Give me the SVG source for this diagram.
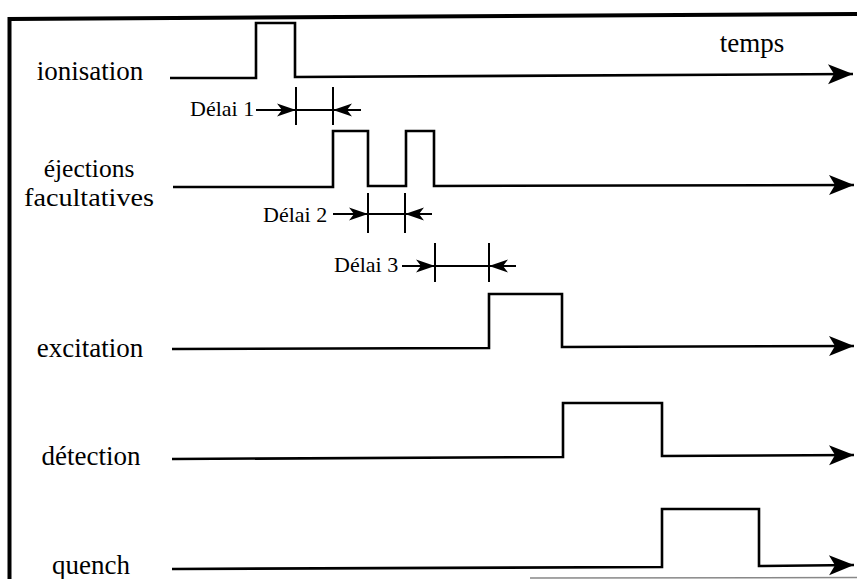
<svg xmlns="http://www.w3.org/2000/svg" width="857" height="579" viewBox="0 0 857 579">
<style>
.lbl{font-family:"Liberation Serif","Times New Roman",serif;font-size:27px;fill:#000;text-anchor:middle}
.lbl2{font-family:"Liberation Serif","Times New Roman",serif;font-size:25.5px;fill:#000;text-anchor:middle}
.dl{font-family:"Liberation Serif","Times New Roman",serif;font-size:22px;fill:#000}
.sig{fill:none;stroke:#000;stroke-width:2.6;stroke-linejoin:miter;marker-end:url(#big)}
.tick{stroke:#000;stroke-width:2}
.dar{fill:none;stroke:#000;stroke-width:2}
.arr{marker-end:url(#small)}
</style>
<defs>
<marker id="big" markerUnits="userSpaceOnUse" markerWidth="26" markerHeight="22" refX="25" refY="10" orient="auto" overflow="visible">
<path d="M0,0 L25,10 L0,20 L6,10 Z" fill="#000"/>
</marker>
<marker id="small" markerUnits="userSpaceOnUse" markerWidth="20" markerHeight="14" refX="19" refY="6.5" orient="auto" overflow="visible">
<path d="M0,0 L19,6.5 L0,13 L5,6.5 Z" fill="#000"/>
</marker>
</defs>
<rect width="857" height="579" fill="#fff"/>
<g id="frame">
<polyline points="9.5,579 9.5,19 857,14" fill="none" stroke="#000" stroke-width="4"/>
<line x1="530" y1="578" x2="857" y2="577.5" stroke="#888" stroke-width="1.5"/>
</g>
<text class="lbl" x="752" y="52">temps</text>
<g id="ionisation">
<text class="lbl" x="90" y="80">ionisation</text>
<path class="sig" d="M170,78 L256,78 L256,23 L295,23 L295,77 L853,74"/>
</g>
<g id="ejections">
<text class="lbl2" x="89" y="177">éjections</text>
<text class="lbl2" x="89" y="206" textLength="130" lengthAdjust="spacingAndGlyphs">facultatives</text>
<path class="sig" d="M173,187 L333,187 L333,131 L368,131 L368,186 L406,186 L406,131 L434,131 L434,186 L854,185"/>
</g>
<g id="excitation">
<text class="lbl" x="90" y="357">excitation</text>
<path class="sig" d="M172,349 L489,348 L489,294 L562,294 L562,347 L854,346"/>
</g>
<g id="detection">
<text class="lbl" x="91" y="465">détection</text>
<path class="sig" d="M172,459 L563,457 L563,403 L662,403 L662,456 L854,455"/>
</g>
<g id="quench">
<text class="lbl" x="91" y="574">quench</text>
<path class="sig" d="M172,569 L662,567 L662,509 L759,509 L759,566 L854,565"/>
</g>
<g id="delai1">
<text class="dl" x="190" y="116">Délai 1</text>
</g>
<g id="delai2">
<text class="dl" x="263" y="222">Délai 2</text>
</g>
<g id="delai3">
<text class="dl" x="334" y="272">Délai 3</text>
</g>
<g id="connectors">
<line class="tick" x1="296" y1="87" x2="296" y2="125"/>
<line class="tick" x1="333" y1="87" x2="333" y2="125"/>
<line class="dar" x1="296" y1="110" x2="333" y2="110"/>
<line class="dar arr" x1="256" y1="110" x2="296" y2="110"/>
<line class="dar arr" x1="361" y1="110" x2="333" y2="110"/>
<line class="tick" x1="368" y1="193" x2="368" y2="233"/>
<line class="tick" x1="405" y1="193" x2="405" y2="233"/>
<line class="dar" x1="368" y1="214" x2="405" y2="214"/>
<line class="dar arr" x1="333" y1="214" x2="368" y2="214"/>
<line class="dar arr" x1="432" y1="214" x2="405" y2="214"/>
<line class="tick" x1="435" y1="243" x2="435" y2="282"/>
<line class="tick" x1="489" y1="243" x2="489" y2="282"/>
<line class="dar" x1="435" y1="266" x2="489" y2="266"/>
<line class="dar arr" x1="402" y1="266" x2="435" y2="266"/>
<line class="dar arr" x1="516" y1="266" x2="489" y2="266"/>
</g>
</svg>
